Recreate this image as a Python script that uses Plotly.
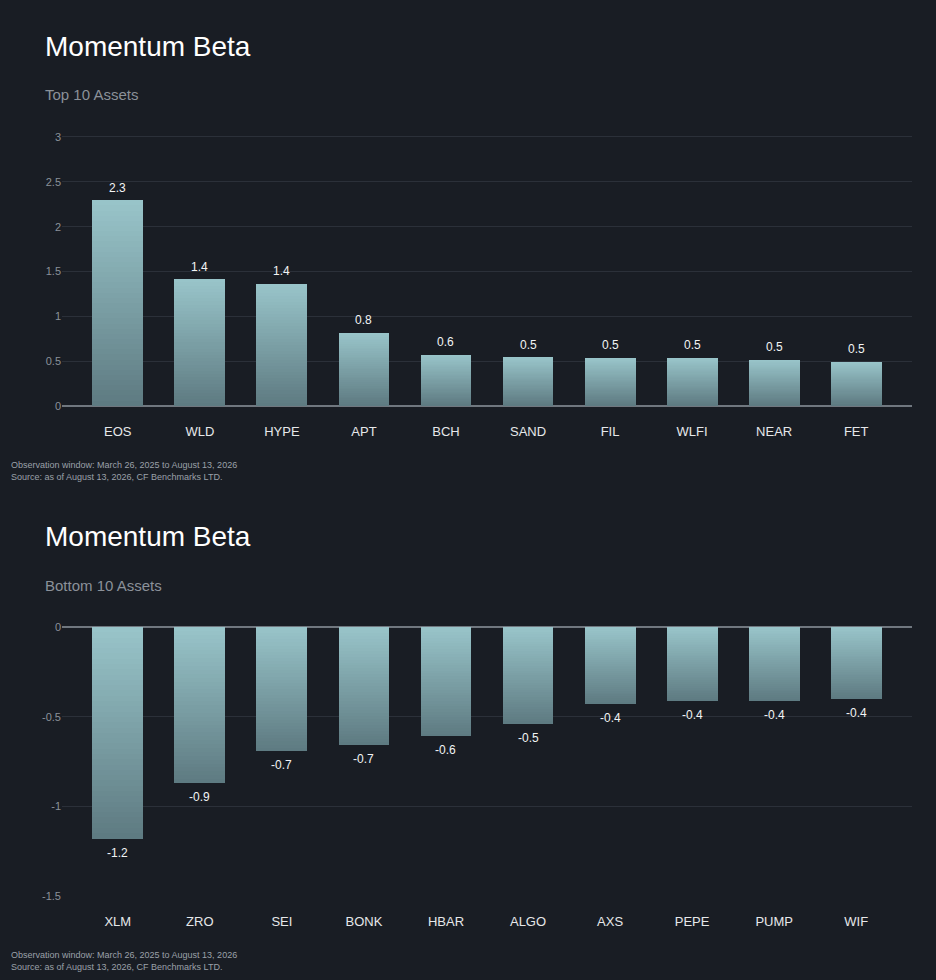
import plotly.graph_objects as go

# values
top_assets = ["EOS", "WLD", "HYPE", "APT", "BCH", "SAND", "FIL", "WLFI", "NEAR", "FET"]
top_beta = [2.29, 1.41, 1.36, 0.81, 0.57, 0.54, 0.53, 0.53, 0.51, 0.49]

bottom_assets = ["XLM", "ZRO", "SEI", "BONK", "HBAR", "ALGO", "AXS", "PEPE", "PUMP", "WIF"]
bottom_beta = [-1.18, -0.87, -0.69, -0.66, -0.61, -0.54, -0.43, -0.41, -0.41, -0.40]

top_ticks = [0, 0.5, 1, 1.5, 2, 2.5, 3]
top_ticktext = ["0", "0.5", "1", "1.5", "2", "2.5", "3"]
bottom_ticks = [0, -0.5, -1, -1.5]
bottom_ticktext = ["0", "-0.5", "-1", "-1.5"]

title = "Momentum Beta"
subtitles = ["Top 10 Assets", "Bottom 10 Assets"]
footnote = "Observation window: March 26, 2025 to August 13, 2026<br>Source: as of August 13, 2026, CF Benchmarks LTD."

BG = "#191d24"
GRID = "#2b3039"
FONT = "Liberation Sans, Arial, sans-serif"
LIGHT = (152, 196, 201)
DARK = (93, 121, 128)
STEPS = 40


def shade(f):
    c = [round(d + (l - d) * f) for l, d in zip(LIGHT, DARK)]
    return "rgb({},{},{})".format(*c)


def add_gradient_bars(fig, cats, vals, xa, ya, light_at_end):
    # stack shrinking copies of each bar so the colour fades from top (light) to bottom (dark)
    for i in range(STEPS, 0, -1):
        k = i / STEPS
        f = k if light_at_end else 1 - (i - 1) / STEPS
        fig.add_trace(go.Bar(
            x=cats, y=[v * k for v in vals], xaxis=xa, yaxis=ya,
            width=0.62, marker=dict(color=shade(f), line=dict(width=0)),
            hoverinfo="skip" if i < STEPS else None, showlegend=False))


fig = go.Figure()
add_gradient_bars(fig, top_assets, top_beta, "x", "y", True)
add_gradient_bars(fig, bottom_assets, bottom_beta, "x2", "y2", False)

ann = []
for c, v in zip(top_assets, top_beta):
    ann.append(dict(x=c, y=v, xref="x", yref="y", text="{:.1f}".format(v), showarrow=False,
                    yanchor="bottom", yshift=4, font=dict(color="#f2f4f5", size=12)))
for c, v in zip(bottom_assets, bottom_beta):
    ann.append(dict(x=c, y=v, xref="x2", yref="y2", text="{:.1f}".format(v), showarrow=False,
                    yanchor="top", yshift=-5, font=dict(color="#f2f4f5", size=12)))

for y0, sub in zip([0, 490], subtitles):
    ann.append(dict(x=43 / 936, y=1 - (y0 + 46) / 980, xref="paper", yref="paper", text=title,
                    showarrow=False, xanchor="left", yanchor="middle",
                    font=dict(color="#ffffff", size=28)))
    ann.append(dict(x=43 / 936, y=1 - (y0 + 95) / 980, xref="paper", yref="paper", text=sub,
                    showarrow=False, xanchor="left", yanchor="middle",
                    font=dict(color="#8b9199", size=15)))
    ann.append(dict(x=9 / 936, y=1 - (y0 + 471) / 980, xref="paper", yref="paper", text=footnote,
                    showarrow=False, xanchor="left", yanchor="middle", align="left",
                    font=dict(color="#9ba1a9", size=9)))

xdom = [62 / 936, 912 / 936]
axis_common = dict(showline=False, ticks="", tickfont=dict(color="#e6e8ea", size=13),
                   showgrid=False, fixedrange=True, range=[-0.68, 9.68], ticklabelstandoff=16)
yaxis_common = dict(gridcolor=GRID, gridwidth=1, zeroline=True, zerolinecolor="#70777f",
                    zerolinewidth=1.5, tickfont=dict(color="#8b9199", size=11), ticks="",
                    showline=False, fixedrange=True)

fig.update_layout(
    width=936, height=980,
    paper_bgcolor=BG, plot_bgcolor=BG,
    font=dict(family=FONT, color="#e6e8ea"),
    margin=dict(l=0, r=0, t=0, b=0, autoexpand=False),
    barmode="overlay", bargap=0,
    xaxis=dict(domain=xdom, anchor="y", **axis_common),
    yaxis=dict(domain=[1 - 406 / 980, 1 - 134.3 / 980], anchor="x", range=[0, 3.03],
               tickvals=top_ticks, ticktext=top_ticktext, **yaxis_common),
    xaxis2=dict(domain=xdom, anchor="y2", **axis_common),
    yaxis2=dict(domain=[1 - 896 / 980, 1 - 627 / 980], anchor="x2", range=[-1.5, 0],
                tickvals=bottom_ticks, ticktext=bottom_ticktext, **yaxis_common),
    annotations=ann,
)

fig.write_html("out.html", config={"displayModeBar": False},
               post_script="document.body.style.margin='0';document.body.style.background='%s';" % BG)
